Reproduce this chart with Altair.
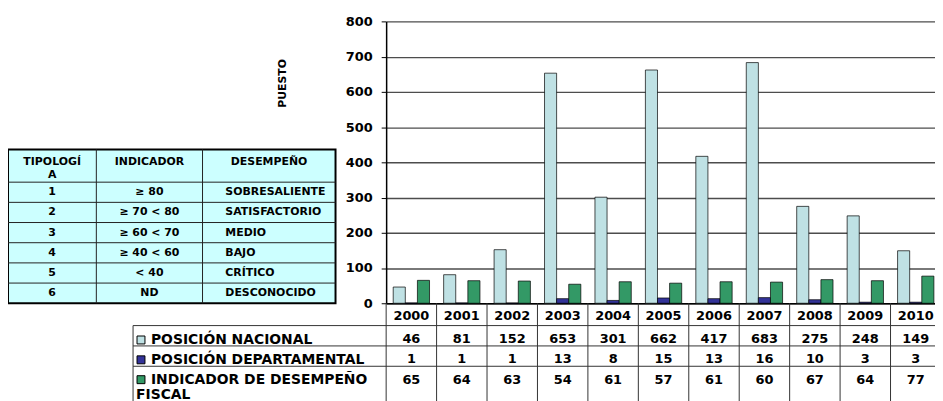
import altair as alt
import pandas as pd

# ---------------- data ----------------
years = ["2000", "2001", "2002", "2003", "2004", "2005", "2006", "2007", "2008", "2009", "2010"]
pos_nacional = [46, 81, 152, 653, 301, 662, 417, 683, 275, 248, 149]
pos_departamental = [1, 1, 1, 13, 8, 15, 13, 16, 10, 3, 3]
indicador_fiscal = [65, 64, 63, 54, 61, 57, 61, 60, 67, 64, 77]
series = ["POSICIÓN NACIONAL", "POSICIÓN DEPARTAMENTAL", "INDICADOR DE DESEMPEÑO FISCAL"]
y_ticks = [0, 100, 200, 300, 400, 500, 600, 700, 800]

encabezados = ["TIPOLOGÍ\nA", "INDICADOR", "DESEMPEÑO"]
tipologia = ["1", "2", "3", "4", "5", "6"]
rango_indicador = ["≥ 80", "≥ 70 < 80", "≥ 60 < 70", "≥ 40 < 60", "< 40", "ND"]
desempeno = ["SOBRESALIENTE", "SATISFACTORIO", "MEDIO", "BAJO", "CRÍTICO", "DESCONOCIDO"]

# ---------------- styles / layout ----------------
colors = ["#BFE1E4", "#333399", "#339966"]
FONT = "DejaVu Sans"
PLOT_W, PLOT_H = 553, 284
X_RANGE = [0, 559]
TIPO_X_EDGES = [-381, -292, -185, -51]
TIPO_Y_EDGES = [129, 162, 284]
TAB_X_EDGES = [-255, 0, 559]
TAB_Y_EDGES = [284, 306.5, 327, 347.5, 392]

# ---------------- tables ----------------
series_values = [pos_nacional, pos_departamental, indicador_fiscal]
bars_df = pd.DataFrame([
    {"year": y, "serie": s, "valor": v, "fila": k + 1}
    for k, (s, vals) in enumerate(zip(series, series_values))
    for y, v in zip(years, vals)
])

n_cols = len(encabezados)
n_rows = len(tipologia)
tipo_bg_df = pd.DataFrame([{"c0": 0, "c1": n_cols, "r0": 0, "r1": n_rows + 1}])
tipo_v_df = pd.DataFrame([{"c": c, "r0": 0, "r1": n_rows + 1} for c in range(1, n_cols)])
tipo_h_df = pd.DataFrame([{"r": r, "c0": 0, "c1": n_cols} for r in range(1, n_rows + 1)])
tipo_head_df = pd.DataFrame([{"c": i + 0.5, "r": 0, "t": t} for i, t in enumerate(encabezados)])
tipo_center_df = pd.DataFrame(
    [{"c": 0.5, "r": i + 1.5, "t": t} for i, t in enumerate(tipologia)]
    + [{"c": 1.5, "r": i + 1.5, "t": t} for i, t in enumerate(rango_indicador)]
)
tipo_left_df = pd.DataFrame([{"c": 2, "r": i + 1.5, "t": t} for i, t in enumerate(desempeno)])

n_years = len(years)
tab_h_df = pd.DataFrame([{"r": r, "c0": -1, "c1": n_years} for r in range(1, len(series) + 1)])
tab_v_df = pd.DataFrame(
    [{"c": -1, "r0": 1, "r1": len(series) + 1}]
    + [{"c": c, "r0": 0, "r1": len(series) + 1} for c in range(0, n_years)]
)
fiscal_df = pd.DataFrame([{"c": -1, "r": len(series), "t": series[-1].split(" ")[-1]}])

# ---------------- scales ----------------
x_band = alt.Scale(domain=years, range=X_RANGE, paddingInner=0.28, paddingOuter=0.14)
tipo_x = alt.Scale(domain=[0, 1, 2, 3], range=TIPO_X_EDGES, zero=False, nice=False)
tipo_y = alt.Scale(domain=[0, 1, n_rows + 1], range=TIPO_Y_EDGES, zero=False, nice=False)
tab_x = alt.Scale(domain=[-1, 0, n_years], range=TAB_X_EDGES, zero=False, nice=False)
tab_y = alt.Scale(domain=[0, 1, 2, 3, 4], range=TAB_Y_EDGES, zero=False, nice=False)

txt = dict(font=FONT, fontWeight="bold", color="black")

# ---------------- typology table ----------------
tipo_bg = alt.Chart(tipo_bg_df).mark_rect(fill="#CCFFFF", stroke="black", strokeWidth=2).encode(
    x=alt.X("c0:Q", scale=tipo_x, axis=None), x2="c1:Q",
    y=alt.Y("r0:Q", scale=tipo_y, axis=None), y2="r1:Q")
tipo_v = alt.Chart(tipo_v_df).mark_rule(color="#222", strokeWidth=1).encode(
    x=alt.X("c:Q", scale=tipo_x, axis=None),
    y=alt.Y("r0:Q", scale=tipo_y, axis=None), y2="r1:Q")
tipo_h = alt.Chart(tipo_h_df).mark_rule(color="#222", strokeWidth=1).encode(
    x=alt.X("c0:Q", scale=tipo_x, axis=None), x2="c1:Q",
    y=alt.Y("r:Q", scale=tipo_y, axis=None))
tipo_head = alt.Chart(tipo_head_df).mark_text(
    fontSize=11, baseline="top", align="center", dy=7, lineBreak="\n", lineHeight=13, **txt).encode(
    x=alt.X("c:Q", scale=tipo_x, axis=None),
    y=alt.Y("r:Q", scale=tipo_y, axis=None), text="t:N")
tipo_center = alt.Chart(tipo_center_df).mark_text(
    fontSize=11, baseline="middle", align="center", **txt).encode(
    x=alt.X("c:Q", scale=tipo_x, axis=None),
    y=alt.Y("r:Q", scale=tipo_y, axis=None), text="t:N")
tipo_left = alt.Chart(tipo_left_df).mark_text(
    fontSize=11, baseline="middle", align="left", dx=23, **txt).encode(
    x=alt.X("c:Q", scale=tipo_x, axis=None),
    y=alt.Y("r:Q", scale=tipo_y, axis=None), text="t:N")

# ---------------- data table grid ----------------
tab_h = alt.Chart(tab_h_df).mark_rule(color="#333", strokeWidth=1).encode(
    x=alt.X("c0:Q", scale=tab_x, axis=None), x2="c1:Q",
    y=alt.Y("r:Q", scale=tab_y, axis=None))
tab_v = alt.Chart(tab_v_df).mark_rule(color="#333", strokeWidth=1).encode(
    x=alt.X("c:Q", scale=tab_x, axis=None),
    y=alt.Y("r0:Q", scale=tab_y, axis=None), y2="r1:Q")

# ---------------- bars ----------------
bars = alt.Chart(bars_df).mark_bar(stroke="black", strokeWidth=0.7).encode(
    x=alt.X("year:N", scale=x_band, sort=years, axis=alt.Axis(
        title=None, labelAngle=0, ticks=False, tickSize=0, grid=False,
        domainColor="black", domainWidth=1.5,
        labelFont=FONT, labelFontSize=13, labelFontWeight="bold", labelColor="black",
        labelPadding=12, labelBaseline="middle")),
    xOffset=alt.XOffset("serie:N", sort=series, scale=alt.Scale(domain=series, paddingInner=0, paddingOuter=0)),
    y=alt.Y("valor:Q", scale=alt.Scale(domain=[0, 800], nice=False), axis=alt.Axis(
        values=y_ticks, title="PUESTO", titleFont=FONT, titleFontSize=11, titleFontWeight="bold",
        titleColor="black", titleAngle=270, titleX=-104, titleY=62, titleAlign="center",
        titleBaseline="middle",
        labelFont=FONT, labelFontSize=13, labelFontWeight="bold", labelColor="black",
        labelPadding=9, labelFlush=False, labelOverlap=False,
        tickSize=5, tickColor="black", tickWidth=1,
        domainColor="black", domainWidth=1.5,
        grid=True, gridColor="#4d4d4d", gridWidth=1.4)),
    color=alt.Color("serie:N", scale=alt.Scale(domain=series, range=colors), legend=alt.Legend(
        orient="none", legendX=-254, legendY=314, title=None, direction="vertical",
        symbolType="square", symbolSize=64, symbolStrokeColor="black", symbolStrokeWidth=1,
        labelFont=FONT, labelFontSize=14, labelFontWeight="bold", labelColor="black",
        labelOffset=3, rowPadding=6, labelLimit=400, padding=0,
        labelExpr="replace(datum.label, ' FISCAL', '')")),
)

vals = alt.Chart(bars_df).mark_text(fontSize=13, baseline="middle", align="center", dy=13.5, **txt).encode(
    x=alt.X("year:N", scale=x_band, sort=years, axis=None),
    y=alt.Y("fila:Q", scale=tab_y, axis=None),
    text="valor:Q")

fiscal = alt.Chart(fiscal_df).mark_text(fontSize=14, baseline="middle", align="left", dx=3, dy=29, **txt).encode(
    x=alt.X("c:Q", scale=tab_x, axis=None),
    y=alt.Y("r:Q", scale=tab_y, axis=None),
    text="t:N")

chart = alt.layer(
    tipo_bg, tipo_v, tipo_h, tipo_head, tipo_center, tipo_left,
    tab_h, tab_v, bars, vals, fiscal
).resolve_scale(x="independent", y="independent").properties(
    width=PLOT_W, height=PLOT_H,
    padding={"left": 381, "top": 12, "right": 0, "bottom": 97},
    autosize=alt.AutoSizeParams(type="none"),
).configure_view(stroke=None)

chart.save("out.html", embed_options={"renderer": "svg", "actions": False})
